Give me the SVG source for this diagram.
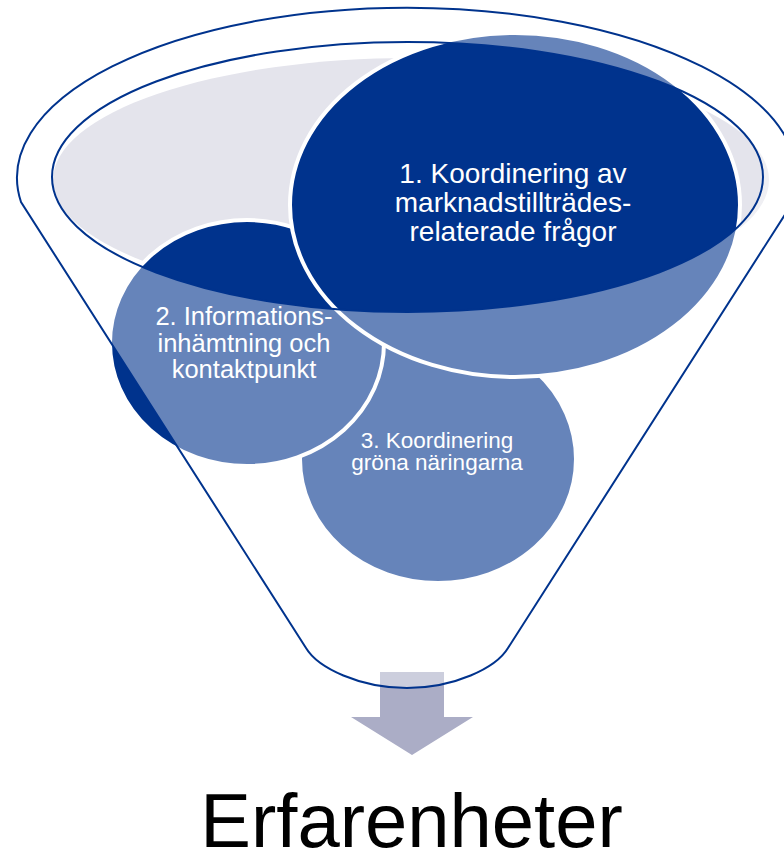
<svg xmlns="http://www.w3.org/2000/svg" width="784" height="854" viewBox="0 0 784 854">
  <defs>
    <style>
      .node { fill: #00338D; stroke: #FFFFFF; stroke-width: 4; }
      .lbl { fill: #FFFFFF; font-family: "Liberation Sans", Arial, sans-serif; text-anchor: middle; }
      .rim { fill: none; stroke: #00338D; stroke-width: 2; }
    </style>
  </defs>
  <rect x="0" y="0" width="784" height="854" fill="#FFFFFF"/>

  <g id="connectors">
    <polygon id="arrow" points="380,672 444,672 444,717 473,717 412,755 351,717 380,717" fill="#ABADC6"/>
  </g>

  <g id="funnel-back">
    <ellipse cx="411" cy="180" rx="358" ry="122" fill="#E4E4EC"/>
  </g>

  <g id="node3">
    <ellipse class="node" cx="438" cy="459" rx="138" ry="124" stroke="none"/>
  </g>
  <g id="node2">
    <ellipse class="node" cx="247" cy="343" rx="137" ry="123"/>
  </g>
  <g id="node1">
    <ellipse class="node" cx="515" cy="205" rx="225" ry="172"/>
  </g>

  <g id="funnel-front">
    <path d="M21,202 A390,170 0 1 1 793,202 L508,648 C496,668 454,688 407,688 C360,688 318,668 306,648 Z M52,177 A355.5,135 0 1 0 763,177 A355.5,135 0 1 0 52,177 Z" fill="#FFFFFF" fill-opacity="0.4" fill-rule="evenodd"/>
    <path class="rim" d="M21,202 A390,170 0 1 1 793,202 L508,648 C496,668 454,688 407,688 C360,688 318,668 306,648 Z"/>
    <ellipse class="rim" cx="407.5" cy="177" rx="355.5" ry="135"/>
  </g>

  <g id="labels">
    <g id="label1" class="lbl" font-size="28">
      <text x="513" y="182.5">1. Koordinering av</text>
      <text x="513" y="211.5">marknadstillträdes-</text>
      <text x="513" y="240.5">relaterade frågor</text>
    </g>
    <g id="label2" class="lbl" font-size="25.5">
      <text x="244" y="325">2. Informations-</text>
      <text x="244" y="351.5">inhämtning och</text>
      <text x="244" y="377.5">kontaktpunkt</text>
    </g>
    <g id="label3" class="lbl" font-size="22.5">
      <text x="437" y="448">3. Koordinering</text>
      <text x="437" y="470">gröna näringarna</text>
    </g>
  </g>

  <g id="result">
    <text x="411.5" y="847" font-family="Liberation Sans, Arial, sans-serif" font-size="76" fill="#000000" text-anchor="middle">Erfarenheter</text>
  </g>
</svg>
